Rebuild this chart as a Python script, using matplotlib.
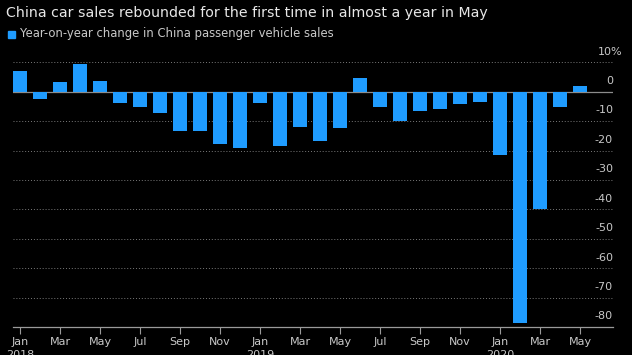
import matplotlib.pyplot as plt
from matplotlib.patches import Rectangle
from matplotlib.transforms import offset_copy

# monthly data, Jan 2018 - May 2020
months = ['Jan', 'Feb', 'Mar', 'Apr', 'May', 'Jun', 'Jul', 'Aug', 'Sep', 'Oct', 'Nov', 'Dec']
years = [2018, 2019, 2020]
yoy_change = [7.1, -2.5, 3.3, 9.4, 3.6, -3.7, -5.3, -7.4, -13.2, -13.2, -17.9, -19.0,
              -3.8, -18.4, -12.1, -16.6, -12.5, 4.6, -5.3, -10.1, -6.6, -5.9, -4.2, -3.6,
              -21.5, -78.5, -39.8, -5.3, 1.9]
y_ticks = [10, 0, -10, -20, -30, -40, -50, -60, -70, -80]

bg = 'black'
bar_color = '#1f9cff'
text_color = '#c8c8c8'
grid_color = '#7a7a7a'

fig = plt.figure(figsize=(6.32, 3.55), dpi=100, facecolor=bg)
ax = fig.add_axes([12.7 / 632, 1 - 327 / 355, (613 - 12.7) / 632, (327 - 62.3) / 355])
ax.set_facecolor(bg)

xs = list(range(len(yoy_change)))
ax.bar(xs, yoy_change, width=0.67, color=bar_color, zorder=3)

ax.set_xlim(-0.365, 29.65)
ax.set_ylim(-80, 10)

# grid
for v in y_ticks:
    if v == 0:
        ax.axhline(0, color='#8c8c8c', lw=0.9, zorder=2)
    elif v != -80:
        ax.axhline(v, color=grid_color, lw=0.7, ls=(0, (1, 2)), zorder=1)

for s in ['top', 'left', 'right']:
    ax.spines[s].set_visible(False)
ax.spines['bottom'].set_color('#9a9a9a')
ax.spines['bottom'].set_linewidth(0.9)

ax.set_yticks([])

# x ticks every two months
tick_pos = []
tick_lab = []
for i in range(0, len(yoy_change), 2):
    m = months[i % 12]
    tick_pos.append(i)
    if m == 'Jan':
        tick_lab.append(m + '\n' + str(years[i // 12]))
    else:
        tick_lab.append(m)
ax.set_xticks(tick_pos)
ax.set_xticklabels(tick_lab, fontsize=8, color=text_color, linespacing=1.45)
ax.tick_params(axis='x', length=5, width=0.8, color='#9a9a9a', pad=2)

# y labels on the right, above gridlines (the % sign hangs past the edge)
pct_tr = offset_copy(ax.transData, fig=fig, x=7.0, y=0, units='points')
for v in y_ticks:
    if v == 10:
        ax.text(29.65, v + 2.6, '10%', ha='right', va='baseline', fontsize=8,
                color=text_color, transform=pct_tr)
    else:
        ax.text(29.65, v + 2.6, str(v), ha='right', va='baseline', fontsize=8, color=text_color)

# title and legend
fig.text(6 / 632, 1 - 13 / 355, 'China car sales rebounded for the first time in almost a year in May',
         ha='left', va='center', fontsize=10.2, color='#e8e8e8')
fig.add_artist(Rectangle((8 / 632, 1 - 37.5 / 355), 7 / 632, 7 / 355,
                         transform=fig.transFigure, color=bar_color))
fig.text(20 / 632, 1 - 34 / 355, 'Year-on-year change in China passenger vehicle sales',
         ha='left', va='center', fontsize=8.4, color=text_color)

fig.savefig('out.png', dpi=100, facecolor=bg)
